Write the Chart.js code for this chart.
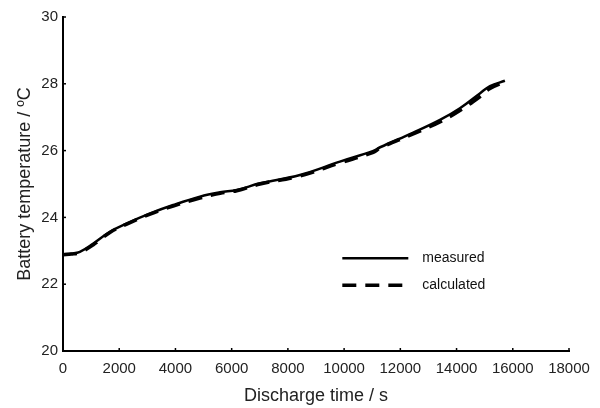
<!DOCTYPE html>
<html>
<head>
<meta charset="utf-8">
<script src="https://cdn.jsdelivr.net/npm/chart.js@4"></script>
<style>
  html, body { margin: 0; padding: 0; background: #fff; }
  #wrap { width: 600px; height: 408px; }
</style>
</head>
<body>
<div id="wrap"><canvas id="tempChart"></canvas></div>
<script>
// dados
var timeS = [0, 300, 600, 1080, 1670, 2270, 3100, 3920, 4870, 5590, 6180, 7010, 8430, 9850, 11040, 11280, 12460, 13410, 14120, 14840, 15190, 15720];
var measured = [22.9, 22.92, 22.97, 23.22, 23.57, 23.82, 24.12, 24.37, 24.62, 24.75, 24.82, 25.02, 25.27, 25.67, 25.99, 26.1, 26.54, 26.92, 27.27, 27.72, 27.93, 28.09];
var calculated = [22.88, 22.9, 22.95, 23.18, 23.55, 23.8, 24.1, 24.34, 24.58, 24.72, 24.8, 25.0, 25.24, 25.63, 25.95, 26.08, 26.5, 26.86, 27.2, 27.62, 27.86, 28.06];
var xTicks = [0, 2000, 4000, 6000, 8000, 10000, 12000, 14000, 16000, 18000];
var yTicks = [20, 22, 24, 26, 28, 30];
var seriesNames = ['measured', 'calculated'];

var fontFam = '"Liberation Sans", Arial, sans-serif';

function pts(ys) {
    return timeS.map(function (t, i) { return { x: t, y: ys[i] }; });
}

// ticks para dentro + legenda dentro do grafico
var extras = {
    id: 'extras',
    afterDraw: function (chart) {
        var c = chart.ctx, xs = chart.scales.x, ys = chart.scales.y, a = chart.chartArea;
        c.save();
        c.strokeStyle = '#000';
        c.lineWidth = 1.5;
        xTicks.forEach(function (v) {
            var px = xs.getPixelForValue(v);
            c.beginPath(); c.moveTo(px, a.bottom); c.lineTo(px, a.bottom - 3); c.stroke();
        });
        yTicks.forEach(function (v) {
            var py = ys.getPixelForValue(v);
            c.beginPath(); c.moveTo(a.left, py); c.lineTo(a.left + 3, py); c.stroke();
        });

        // legenda
        var lx = a.left + (a.right - a.left) * 0.552;
        var ly = a.top + (a.bottom - a.top) * 0.722;
        var gap = 27;
        c.font = '14px ' + fontFam;
        c.fillStyle = '#111';
        c.textBaseline = 'middle';
        chart.data.datasets.forEach(function (ds, i) {
            var y = ly + i * gap;
            c.beginPath();
            c.lineWidth = ds.borderWidth;
            c.setLineDash(ds.borderDash || []);
            c.moveTo(lx, y); c.lineTo(lx + 66, y);
            c.stroke();
            c.setLineDash([]);
            c.fillText(ds.label, lx + 80, y);
        });
        c.restore();
    }
};

var ctx = document.getElementById('tempChart').getContext('2d');
var tempChart = new Chart(ctx, {
    type: 'line',
    data: {
        datasets: [{
            label: seriesNames[0],
            data: pts(measured),
            borderColor: '#000',
            borderWidth: 2.5,
            pointRadius: 0,
            tension: 0.4,
            fill: false
        }, {
            label: seriesNames[1],
            data: pts(calculated),
            borderColor: '#000',
            borderWidth: 3.5,
            borderDash: [14, 9],
            pointRadius: 0,
            tension: 0.4,
            fill: false
        }]
    },
    options: {
        responsive: true,
        maintainAspectRatio: false,
        animation: false,
        layout: { padding: { top: 17, right: 31, left: 0, bottom: 0 } },
        plugins: {
            legend: { display: false },
            tooltip: { enabled: false }
        },
        scales: {
            x: {
                type: 'linear',
                min: 0,
                max: 18000,
                afterBuildTicks: function (s) { s.ticks = xTicks.map(function (v) { return { value: v }; }); },
                grid: { display: false, drawTicks: false },
                border: { display: true, color: '#000', width: 2 },
                ticks: {
                    color: '#222', padding: 9, font: { size: 15, family: fontFam }, maxRotation: 0, autoSkip: false,
                    callback: function (v) { return String(v); }
                },
                title: { display: true, text: 'Discharge time / s', color: '#222', font: { size: 18, family: fontFam }, padding: { top: 4, bottom: 1 } },
                afterFit: function (s) { s.height = 57; }
            },
            y: {
                min: 20,
                max: 30,
                afterBuildTicks: function (s) { s.ticks = yTicks.map(function (v) { return { value: v }; }); },
                grid: { display: false, drawTicks: false },
                border: { display: true, color: '#000', width: 2 },
                ticks: { color: '#222', padding: 5, font: { size: 15, family: fontFam } },
                title: { display: true, text: 'Battery temperature / ºC', color: '#222', font: { size: 18, family: fontFam }, padding: { top: 14, bottom: 4 } },
                afterFit: function (s) { s.width = 63; }
            }
        }
    },
    plugins: [extras]
});
</script>
</body>
</html>
